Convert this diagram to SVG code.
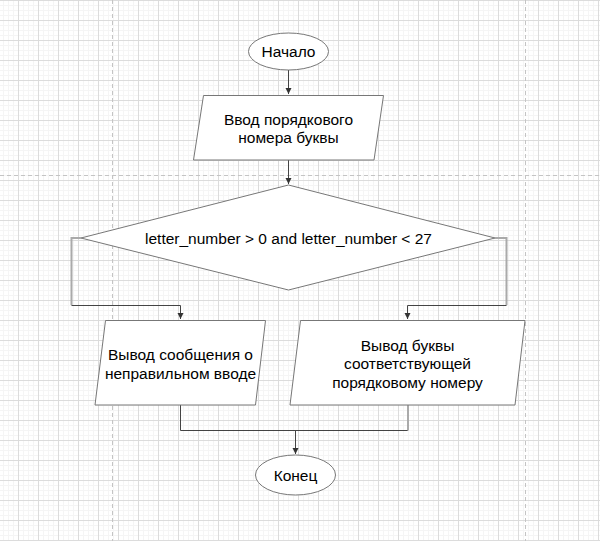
<svg xmlns="http://www.w3.org/2000/svg" width="600" height="541" viewBox="0 0 600 541">
<defs>
<pattern id="grid" patternUnits="userSpaceOnUse" x="18" y="0" width="20" height="20">
<rect width="20" height="20" fill="#ffffff"/>
<path d="M5.5,0V20M10.5,0V20M15.5,0V20M0,5.5H20M0,10.5H20M0,15.5H20" stroke="#f5f5f5" stroke-width="1" fill="none"/>
<path d="M0.5,0V20M0,0.5H20" stroke="#dcdcdc" stroke-width="1" fill="none"/>
</pattern>
<marker id="arr" markerUnits="userSpaceOnUse" markerWidth="7" markerHeight="7" refX="6" refY="3.5" orient="auto">
<path d="M0,0.5 L6,3.5 L0,6.5 Z" fill="#333333"/>
</marker>
<style>
.shape{fill:#ffffff;stroke:#777777;stroke-width:1}
.lbl{font-family:"Liberation Sans",Arial,sans-serif;font-size:15.5px;fill:#000000;text-anchor:middle}
.dk{fill:none;stroke:#444444;stroke-width:1}
.lt{fill:none;stroke:#aaaaaa;stroke-width:2}
.pb{fill:none;stroke:#c4c4c4;stroke-width:1;stroke-dasharray:4 3}
</style>
</defs>
<rect width="600" height="541" fill="url(#grid)"/>
<g id="page-breaks">
<path class="pb" d="M112.5,0V541M525.5,0V541M0,175.5H600"/>
</g>
<g id="connectors">
<path class="dk" d="M288.5,70V94" marker-end="url(#arr)"/>
<path class="dk" d="M288.5,160V184" marker-end="url(#arr)"/>
<path class="lt" d="M81,238H71.5V305"/>
<path class="dk" d="M71.5,305.5H180.5V319" marker-end="url(#arr)"/>
<path class="lt" d="M495,238H506.5V305"/>
<path class="dk" d="M506.5,305.5H407.5V319" marker-end="url(#arr)"/>
<path class="dk" d="M180.5,405V430.5H408"/>
<path class="lt" d="M408,405V430.5"/>
<path class="dk" d="M295.5,430.5V454" marker-end="url(#arr)"/>
</g>
<g id="start">
<ellipse class="shape" cx="288.5" cy="51.5" rx="40" ry="18.5"/>
<text class="lbl" x="288.5" y="56.5">Начало</text>
</g>
<g id="input">
<polygon class="shape" points="203.5,95.5 383.5,95.5 374,160 193.5,160"/>
<text class="lbl" x="288.5" y="125">Ввод порядкового</text>
<text class="lbl" x="288.5" y="143">номера буквы</text>
</g>
<g id="decision">
<polygon class="shape" points="288.5,185 495,238 288.5,290 81,238"/>
<text class="lbl" x="288.5" y="243.5">letter_number &gt; 0 and letter_number &lt; 27</text>
</g>
<g id="error-output">
<polygon class="shape" points="105.5,320.5 265.5,320.5 255.5,405 95,405"/>
<text class="lbl" x="180.5" y="360">Вывод сообщения о</text>
<text class="lbl" x="180.5" y="378.5">неправильном вводе</text>
</g>
<g id="letter-output">
<polygon class="shape" points="300.5,320.5 525,320.5 515,405 290,405"/>
<text class="lbl" x="407.5" y="350.5">Вывод буквы</text>
<text class="lbl" x="407.5" y="369">соответствующей</text>
<text class="lbl" x="407.5" y="387.5">порядковому номеру</text>
</g>
<g id="end">
<ellipse class="shape" cx="295.5" cy="475" rx="40" ry="20"/>
<text class="lbl" x="295.5" y="480.5">Конец</text>
</g>
</svg>
